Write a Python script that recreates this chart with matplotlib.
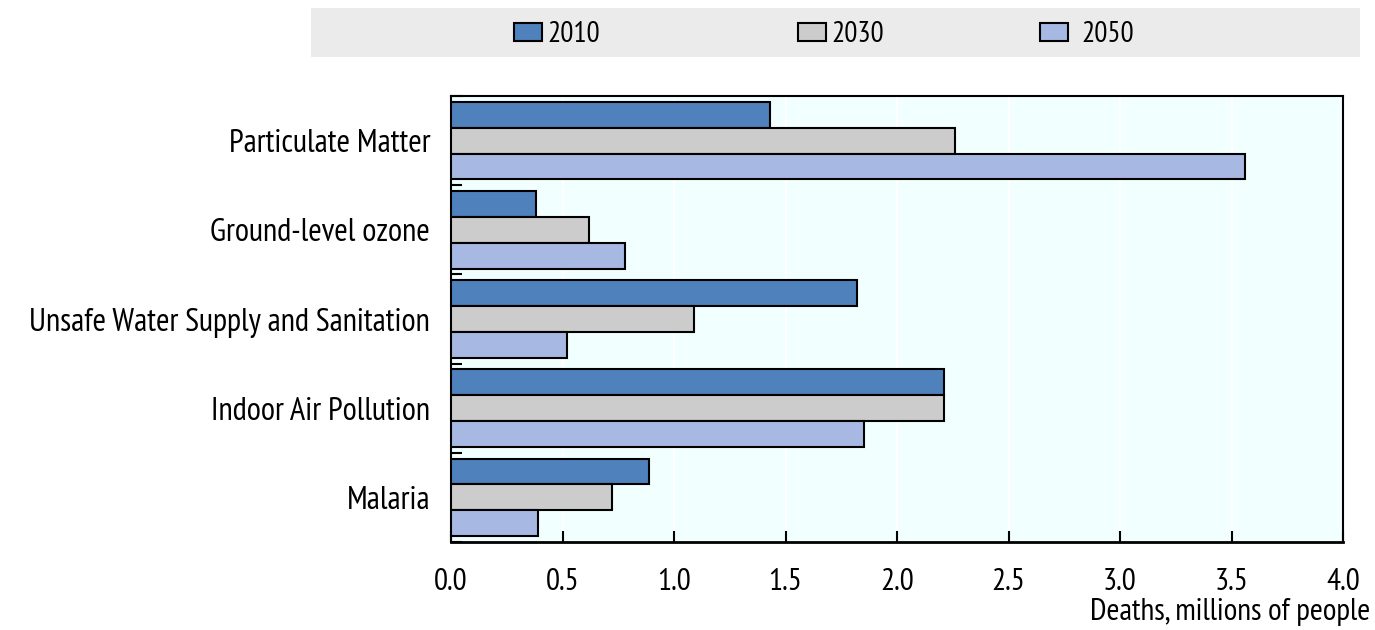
import matplotlib
matplotlib.use("Agg")
import matplotlib.pyplot as plt
import numpy as np
from matplotlib.patches import Rectangle

categories = ["Particulate Matter", "Ground-level ozone",
              "Unsafe Water Supply and Sanitation", "Indoor Air Pollution", "Malaria"]
series_labels = ["2010", "2030", "2050"]
v2010 = [1.43, 0.38, 1.82, 2.21, 0.89]
v2030 = [2.26, 0.62, 1.09, 2.21, 0.72]
v2050 = [3.56, 0.78, 0.52, 1.85, 0.39]
xticks = [0.0, 0.5, 1.0, 1.5, 2.0, 2.5, 3.0, 3.5, 4.0]
xlabel = "Deaths, millions of people"

colors = ["#4F81BD", "#CCCCCC", "#A7B8E3"]

plt.rcParams['font.family'] = ['Liberation Sans Narrow', 'Arial Narrow', 'PT Sans Narrow',
                               'Roboto Condensed', 'Archivo Narrow', 'Liberation Sans',
                               'DejaVu Sans']
fs_cat = 23.3
fs_tick = 22.5
fs_leg = 21

fig = plt.figure(figsize=(13.75, 6.3), dpi=100)
ax = fig.add_axes([451/1375, 1-542/630, (1343-451)/1375, (542-96)/630])
ax.set_facecolor("#F2FFFF")

# legend band
fig.patches.append(Rectangle((311/1375, 1-57/630), (1360-311)/1375, 49/630,
                             transform=fig.transFigure, facecolor="#EBEBEB",
                             edgecolor="none", zorder=0))

n = len(categories)
pos = np.arange(n)
h = 0.29
offsets = [-h, 0, h]
conts = []
for vals, off, c, lab in zip([v2010, v2030, v2050], offsets, colors, series_labels):
    b = ax.barh(pos + off, vals, height=h, color=c, edgecolor="black",
                linewidth=1.5, label=lab, zorder=3)
    conts.append(b)

ax.set_xlim(0, 4.0)
ax.set_ylim(n - 0.5, -0.5)
ax.set_xticks(xticks)
ax.set_xticklabels([f"{t:.1f}" for t in xticks], fontsize=fs_tick)
ax.set_yticks(pos)
ax.set_yticklabels(categories, fontsize=fs_cat)
ax.set_yticks(np.arange(n + 1) - 0.5, minor=True)
ax.tick_params(axis='y', which='major', length=0, pad=15)
ax.tick_params(axis='y', which='minor', direction='in', length=8, width=1.5, color='black')
ax.tick_params(axis='x', which='major', direction='in', length=8, width=1.5, pad=19)
ax.grid(axis='x', color='white', linewidth=1.5, zorder=1)
ax.set_axisbelow(True)
for s in ax.spines.values():
    s.set_linewidth(1.5)
    s.set_color('black')
ax.spines['bottom'].set_linewidth(2.0)

ax.set_xlabel(xlabel, fontsize=fs_tick, ha='right', va='center')
ax.xaxis.set_label_coords((1370 - 451) / (1343 - 451), (542 - 612) / (542 - 96))

leg_x = [514/1375, 798/1375, 1040/1375]
pads = [0.17, 0.17, 0.45]
for cont, lab, lx, tp in zip(conts, series_labels, leg_x, pads):
    fig.legend(handles=[cont], labels=[lab], loc='center left',
               bbox_to_anchor=(lx, 1-35/630), frameon=False, fontsize=fs_leg,
               handlelength=0.97, handleheight=0.55, handletextpad=tp,
               borderpad=0, borderaxespad=0)

fig.savefig("out.png", dpi=100)
